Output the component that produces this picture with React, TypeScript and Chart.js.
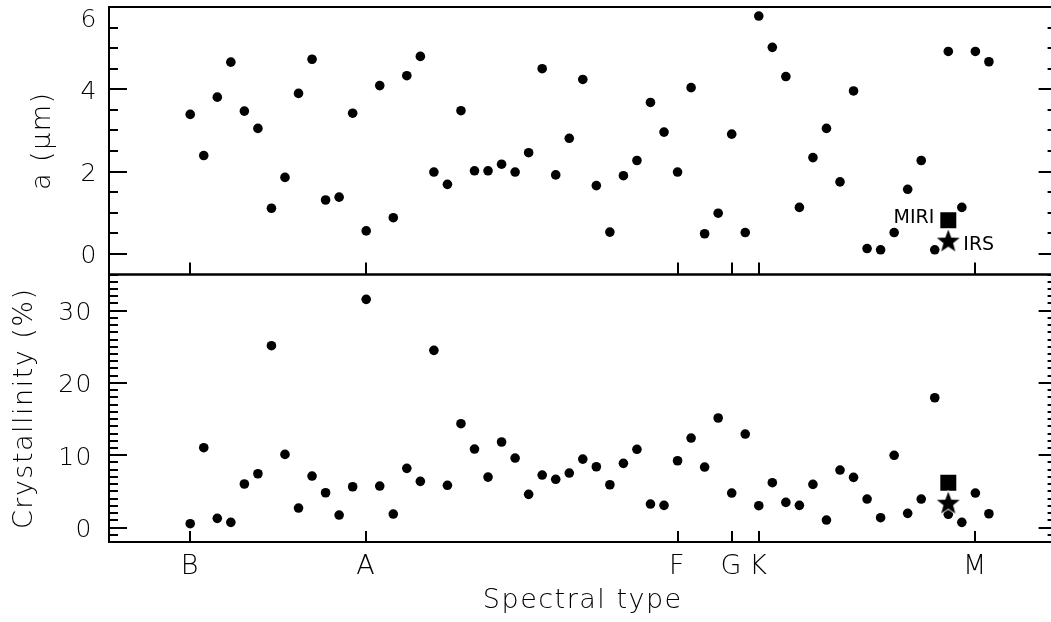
import React, { useEffect, useRef } from 'react';
import { Chart, registerables } from 'chart.js';

Chart.register(...registerables);

// Spectral-type tick positions (source index where each type starts) and labels
const spectralTicks = [0, 13, 36, 40, 42, 58];
const spectralLabels = ['B', 'A', 'F', 'G', 'K', 'M'];

// Sources ordered by spectral type (index along x)
const sourceIndex = [
  0, 1, 2, 3, 4, 5, 6, 7, 8, 9, 10, 11, 12, 13, 14, 15, 16, 17, 18, 19,
  20, 21, 22, 23, 24, 25, 26, 27, 28, 29, 30, 31, 32, 33, 34, 35, 36, 37, 38, 39,
  40, 41, 42, 43, 44, 45, 46, 47, 48, 49, 50, 51, 52, 53, 54, 55, 56, 57, 58, 59,
];

// Grain size a (micron)
const grainSize = [
  3.39, 2.39, 3.81, 4.66, 3.47, 3.05, 1.11, 1.86, 3.9, 4.73,
  1.31, 1.38, 3.42, 0.56, 4.09, 0.88, 4.33, 4.8, 1.99, 1.69,
  3.48, 2.02, 2.02, 2.18, 1.99, 2.46, 4.5, 1.92, 2.81, 4.24,
  1.66, 0.53, 1.9, 2.27, 3.68, 2.96, 1.99, 4.04, 0.49, 0.99,
  2.91, 0.52, 5.78, 5.02, 4.31, 1.13, 2.34, 3.05, 1.75, 3.96,
  0.13, 0.1, 0.52, 1.57, 2.27, 0.1, 4.92, 1.13, 4.92, 4.67,
];

// Crystallinity (%)
const crystallinity = [
  0.53, 11.04, 1.27, 0.72, 6.02, 7.44, 25.15, 10.12, 2.7, 7.12,
  4.81, 1.73, 5.64, 31.56, 5.74, 1.87, 8.19, 6.39, 24.51, 5.84,
  14.36, 10.86, 6.98, 11.83, 9.61, 4.59, 7.26, 6.67, 7.54, 9.47,
  8.41, 5.92, 8.88, 10.82, 3.25, 3.07, 9.24, 12.38, 8.37, 15.15,
  4.77, 12.93, 3.02, 6.2, 3.48, 3.07, 5.97, 1.04, 7.95, 6.94,
  3.94, 1.36, 9.99, 1.96, 3.94, 17.95, 1.83, 0.72, 4.77, 1.91,
];

// The highlighted object (MIRI square, IRS star)
const highlightIndex = [56];
const miriGrain = [0.82];
const irsGrain = [0.3];
const miriCryst = [6.2];
const irsCryst = [3.3];
const miriLabel = 'MIRI';
const irsLabel = 'IRS';

// Tick values for the two panels
const grainTicks = [0, 2, 4, 6];
const crystTicks = [0, 10, 20, 30];

const FONT_FAMILY = '"DejaVu Sans", "Liberation Sans", sans-serif';
const LETTER_SPACING = '1.5px';

function makeStar(R: number): HTMLCanvasElement {
  const size = Math.ceil(2 * R + 4);
  const c = document.createElement('canvas');
  c.width = size;
  c.height = size;
  const g = c.getContext('2d')!;
  const cx = size / 2;
  const cy = size / 2;
  g.beginPath();
  for (let i = 0; i < 10; i++) {
    const r = i % 2 ? R * 0.42 : R;
    const a = -Math.PI / 2 + (i * Math.PI) / 5;
    const px = cx + r * Math.cos(a);
    const py = cy + r * Math.sin(a);
    if (i === 0) g.moveTo(px, py);
    else g.lineTo(px, py);
  }
  g.closePath();
  g.lineWidth = 1.5;
  g.strokeStyle = '#fff';
  g.stroke();
  g.fillStyle = '#000';
  g.fill();
  return c;
}

const zeroPad = (s: any) => {
  s.paddingTop = 0;
  s.paddingBottom = 0;
  s.paddingLeft = 0;
  s.paddingRight = 0;
};

const framePlugin = {
  id: 'frameTicks',
  beforeDraw(chart: any) {
    (chart.ctx as any).letterSpacing = LETTER_SPACING;
    // the top label of the upper panel sits a little below the frame edge
    const items = chart.scales.yTop.getLabelItems();
    for (const it of items) {
      if (it.label === '6' && !it._shifted) {
        it.options.translation = [it.options.translation[0], it.options.translation[1] + 10];
        it._shifted = true;
      }
    }
  },
  afterDraw(chart: any) {
    const { ctx, chartArea } = chart;
    const xs = chart.scales.x;
    const L = chartArea.left;
    const R = chartArea.right;
    ctx.save();
    ctx.strokeStyle = '#000';
    ctx.lineWidth = 2;
    const panels = [
      { s: chart.scales.yTop, minor: 0.5, majorEvery: 4, xTick: 12 },
      { s: chart.scales.yBot, minor: 1, majorEvery: 10, xTick: 11 },
    ];
    for (const p of panels) {
      const s = p.s;
      ctx.beginPath();
      ctx.moveTo(L, s.bottom);
      ctx.lineTo(L, s.top);
      ctx.lineTo(R, s.top);
      ctx.lineTo(R, s.bottom);
      ctx.lineTo(L, s.bottom);
      ctx.closePath();
      ctx.stroke();
      const n0 = Math.ceil(s.min / p.minor);
      const n1 = Math.floor(s.max / p.minor);
      ctx.beginPath();
      for (let n = n0; n <= n1; n++) {
        const v = n * p.minor;
        const py = Math.round(s.getPixelForValue(v));
        const len = n % p.majorEvery === 0 ? 18 : 9;
        ctx.moveTo(L, py);
        ctx.lineTo(L + len, py);
        ctx.moveTo(R, py);
        ctx.lineTo(R - len, py);
      }
      for (const t of spectralTicks) {
        const px = Math.round(xs.getPixelForValue(t));
        ctx.moveTo(px, s.bottom);
        ctx.lineTo(px, s.bottom - p.xTick);
      }
      ctx.stroke();
    }
    // labels for the highlighted object
    const yT = chart.scales.yTop;
    const hx = xs.getPixelForValue(highlightIndex[0]);
    (ctx as any).letterSpacing = '0px';
    ctx.fillStyle = '#000';
    ctx.font = `19px ${FONT_FAMILY}`;
    ctx.textBaseline = 'alphabetic';
    ctx.textAlign = 'right';
    ctx.fillText(miriLabel, hx - 14, yT.getPixelForValue(miriGrain[0]) + 2.5);
    ctx.textAlign = 'left';
    ctx.fillText(irsLabel, hx + 15, yT.getPixelForValue(irsGrain[0]) + 8.5);
    ctx.restore();
  },
};

export default function App() {
  const ref = useRef<HTMLCanvasElement | null>(null);
  useEffect(() => {
    if (!ref.current) return;
    const star = makeStar(12);
    const font = { family: FONT_FAMILY, size: 27, weight: '200' as any };
    const yTickFont = { family: FONT_FAMILY, size: 25, weight: '200' as any };
    const pts = (ys: number[]) => sourceIndex.map((x, i) => ({ x, y: ys[i] }));
    const hl = (ys: number[]) => highlightIndex.map((x, i) => ({ x, y: ys[i] }));
    const dot = { pointRadius: 4.8, pointHoverRadius: 4.8, backgroundColor: '#000', borderWidth: 0, pointBorderWidth: 0 };
    const chart = new Chart(ref.current, {
      type: 'scatter',
      data: {
        datasets: [
          { label: 'IRS a', data: hl(irsGrain), yAxisID: 'yTop', pointStyle: star as any, pointRadius: 12, backgroundColor: '#000', borderWidth: 0 },
          { label: 'MIRI a', data: hl(miriGrain), yAxisID: 'yTop', pointStyle: 'rect', pointRadius: 11.3, backgroundColor: '#000', borderWidth: 0 },
          { label: 'IRS cryst', data: hl(irsCryst), yAxisID: 'yBot', pointStyle: star as any, pointRadius: 12, backgroundColor: '#000', borderWidth: 0 },
          { label: 'MIRI cryst', data: hl(miriCryst), yAxisID: 'yBot', pointStyle: 'rect', pointRadius: 11.3, backgroundColor: '#000', borderWidth: 0 },
          { label: 'a', data: pts(grainSize), yAxisID: 'yTop', ...dot },
          { label: 'crystallinity', data: pts(crystallinity), yAxisID: 'yBot', ...dot },
        ],
      },
      options: {
        responsive: false,
        animation: false,
        events: [],
        layout: { autoPadding: false, padding: { top: 7, right: 3.4, left: 0, bottom: 0 } },
        plugins: { legend: { display: false }, tooltip: { enabled: false } },
        scales: {
          x: {
            type: 'linear',
            position: 'bottom',
            min: -6,
            max: 64,
            afterBuildTicks: (s: any) => {
              s.ticks = spectralTicks.map((v) => ({ value: v }));
            },
            afterFit: (s: any) => {
              s.height = 80;
              zeroPad(s);
            },
            ticks: {
              autoSkip: false,
              maxRotation: 0,
              padding: 9,
              color: '#000',
              font,
              callback: (v: any) => spectralLabels[spectralTicks.indexOf(Number(v))] ?? '',
            },
            grid: { display: false, drawTicks: false },
            border: { display: false },
            title: { display: true, text: 'Spectral type', color: '#000', font, padding: { top: 0, bottom: 5 } },
          },
          yBot: {
            type: 'linear',
            position: 'left',
            stack: 'panels',
            stackWeight: 1,
            min: -2,
            max: 35,
            afterBuildTicks: (s: any) => {
              s.ticks = crystTicks.map((v) => ({ value: v }));
            },
            afterFit: (s: any) => {
              s.width = 109;
              zeroPad(s);
            },
            ticks: { padding: 16, labelOffset: 3, color: '#000', font: yTickFont },
            grid: { display: false, drawTicks: false },
            border: { display: false },
            title: { display: true, text: 'Crystallinity (%)', color: '#000', font, padding: { top: 9, bottom: 0 } },
          },
          yTop: {
            type: 'linear',
            position: 'left',
            stack: 'panels',
            stackWeight: 1,
            min: -0.5,
            max: 6,
            afterBuildTicks: (s: any) => {
              s.ticks = grainTicks.map((v) => ({ value: v }));
            },
            afterFit: (s: any) => {
              s.width = 109;
              zeroPad(s);
            },
            ticks: { padding: 11, labelOffset: 3, color: '#000', font: yTickFont },
            grid: { display: false, drawTicks: false },
            border: { display: false },
            title: { display: true, text: 'a (μm)', color: '#000', font, padding: { top: 27, bottom: 0 } },
          },
        },
      } as any,
      plugins: [framePlugin],
    });
    return () => chart.destroy();
  }, []);
  return (
    <div style={{ position: 'fixed', left: 0, top: 0, width: '100vw', height: '100vh', overflow: 'hidden', background: '#fff' }}>
      <canvas ref={ref} width={1060} height={622} style={{ display: 'block', width: 1060, height: 622 }} />
    </div>
  );
}
